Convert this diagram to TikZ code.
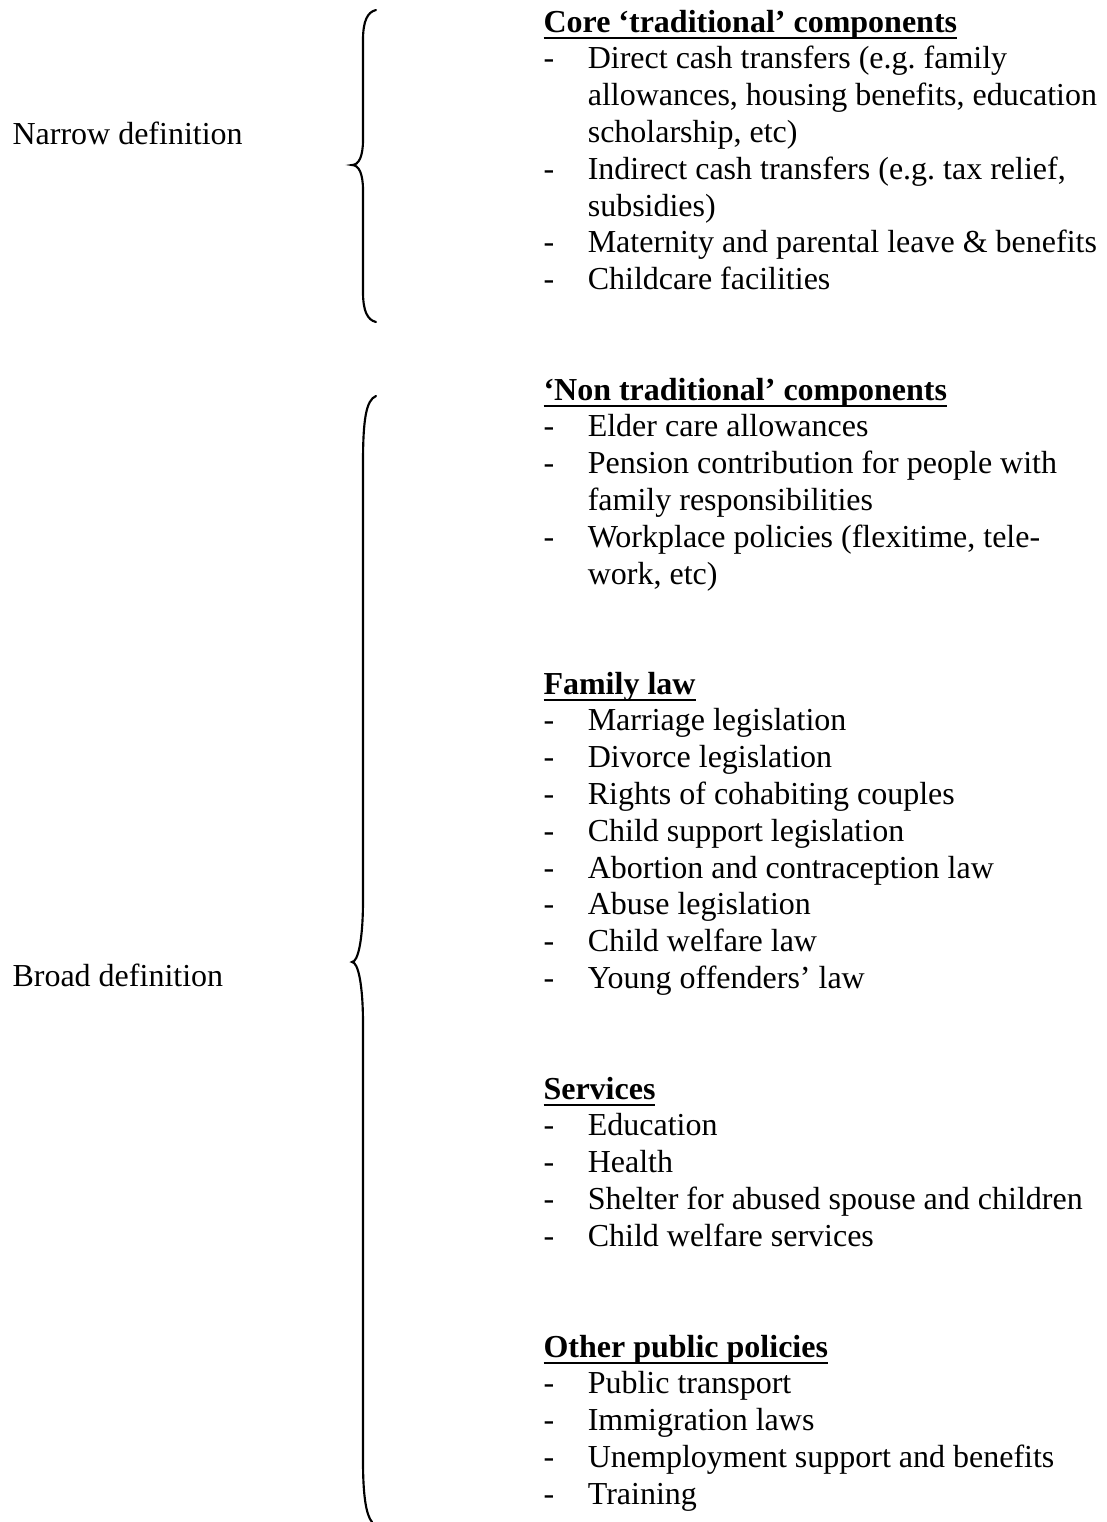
\documentclass[tikz,border=0pt]{standalone}
\usepackage{fontspec}
\setmainfont{Liberation Serif}
\usepackage{array}
\usetikzlibrary{positioning}

\newcommand{\bodyfont}{\fontsize{12}{13.8}\selectfont\frenchspacing}
\newcommand{\hdr}[1]{\setbox0\hbox{\bfseries #1}\rlap{\rule[-2.8pt]{\wd0}{1.1pt}}\box0}
\newcommand{\hrow}[1]{\multicolumn{2}{@{}l@{}}{\hdr{#1}}\\}
\newenvironment{blist}{\begin{tabular}[t]{@{}p{16.6pt}@{}l@{}}}{\end{tabular}}

\tikzset{
  lbl/.style={font=\bodyfont, anchor=base west, inner sep=0pt},
  sect/.style={lbl},
  brc/.style={line width=0.8pt, line cap=round}
}

\begin{document}
\begin{tikzpicture}[x=0.375pt, y=-0.375pt]
  \useasboundingbox (0,0) rectangle (1107,1522);
  % labels
  \node[lbl] (narrow) at (12,144) {Narrow definition};
  \node[lbl] (broad) at (12,986) {Broad definition};
  % braces
  \draw[brc] (376,10) .. controls (367,12) and (363,22) .. (363,40)
    -- (363,140) .. controls (363,156) and (359,165) .. (352,165)
    .. controls (359,165) and (363,174) .. (363,190)
    -- (363,292) .. controls (363,310) and (367,320) .. (376,322);
  \draw[brc] (376,396) .. controls (366,400) and (363,420) .. (363,463)
    -- (363,900) .. controls (363,940) and (358,962) .. (352,962)
    .. controls (358,962) and (363,984) .. (363,1024)
    -- (363,1461) .. controls (363,1495) and (366,1515) .. (372,1522);
  % narrow definition
  \node[sect] (core) at (543,32) {\begin{blist}
    \hrow{Core ‘traditional’ components}
    - & Direct cash transfers (e.g.\ family\\
      & allowances, housing benefits, education\\
      & scholarship, etc)\\
    - & Indirect cash transfers (e.g.\ tax relief,\\
      & subsidies)\\
    - & Maternity and parental leave \& benefits\\
    - & Childcare facilities
  \end{blist}};
  % broad definition
  \node[sect] (nontrad) at (543,400) {\begin{blist}
    \hrow{‘Non traditional’ components}
    - & Elder care allowances\\
    - & Pension contribution for people with\\
      & family responsibilities\\
    - & Workplace policies (flexitime, tele-\\
      & work, etc)
  \end{blist}};
  \node[sect] (famlaw) at (543,694) {\begin{blist}
    \hrow{Family law}
    - & Marriage legislation\\
    - & Divorce legislation\\
    - & Rights of cohabiting couples\\
    - & Child support legislation\\
    - & Abortion and contraception law\\
    - & Abuse legislation\\
    - & Child welfare law\\
    - & Young offenders’ law
  \end{blist}};
  \node[sect] (services) at (543,1099) {\begin{blist}
    \hrow{Services}
    - & Education\\
    - & Health\\
    - & Shelter for abused spouse and children\\
    - & Child welfare services
  \end{blist}};
  \node[sect] (other) at (543,1357) {\begin{blist}
    \hrow{Other public policies}
    - & Public transport\\
    - & Immigration laws\\
    - & Unemployment support and benefits\\
    - & Training
  \end{blist}};
\end{tikzpicture}
\end{document}
